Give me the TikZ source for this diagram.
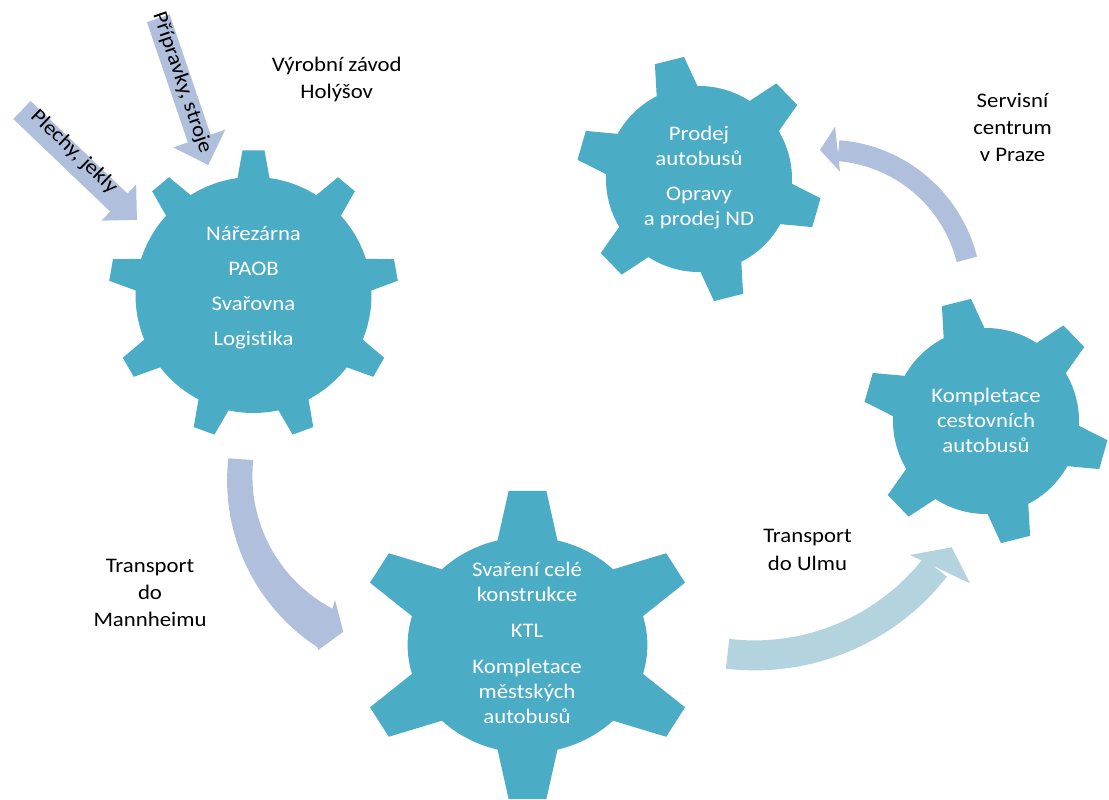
\documentclass[tikz,border=0pt]{standalone}
\usepackage{fontspec}
\setmainfont{Carlito}[FakeStretch=1.1, Ligatures=NoCommon]
\usetikzlibrary{calc}

\definecolor{gearteal}{HTML}{4BACC6}
\definecolor{flowlav}{HTML}{B0BFDC}
\definecolor{flowteal}{HTML}{B3D4DF}

\newcommand\lblfont{\fontsize{20.7}{27.3}\selectfont}
\newcommand\gearfont{\fontsize{20.7}{25}\selectfont}

% gear outline: #1 centre, #2 teeth, #3 angle of first tooth,
% #4 body radius, #5 tip radius, #6 half width at base, #7 half width at tip, #8 x stretch
\newcommand\gearshape[8]{%
  \begin{scope}[shift={#1}, xscale=#8]
    \pgfmathsetmacro\gearB{asin(#6/#4)}%
    \pgfmathsetmacro\gearT{asin(#7/#5)}%
    \pgfmathsetmacro\gearS{360/#2}%
    \fill[gearteal] ({#3-\gearS+\gearB}:#4)
      \foreach \k in {1,...,#2}{
        arc[start angle={#3+(\k-2)*\gearS+\gearB}, end angle={#3+(\k-1)*\gearS-\gearB}, radius=#4]
        -- ({#3+(\k-1)*\gearS-\gearT}:#5) -- ({#3+(\k-1)*\gearS+\gearT}:#5)
        -- ({#3+(\k-1)*\gearS+\gearB}:#4)
      } -- cycle;
  \end{scope}%
}

% anchor=base puts the last line of a label on the given point
\tikzset{
  lbl/.style={font=\lblfont, align=center, inner sep=0pt, anchor=base, text=black},
  gtxt/.style={font=\gearfont, align=center, inner sep=0pt, anchor=base, text=white},
  arrtxt/.style={font=\lblfont, inner sep=0pt, text=black},
}

\begin{document}
\begin{tikzpicture}[x=1pt, y=-1pt]
  \fill[white] (0,0) rectangle (1109,800);
  \useasboundingbox (0,0) rectangle (1109,800);
  \clip (0,0) rectangle (1109,800);

  % gear centres
  \coordinate (g1) at (253.5,295);
  \coordinate (g2) at (699,179);
  \coordinate (g3) at (986,421);
  \coordinate (g4) at (527.5,645);

  % gears
  \gearshape{(g1)}{9}{-90}{118}{145}{16}{11}{1}
  \gearshape{(g2)}{6}{-104}{93}{123}{21}{15}{1}
  \gearshape{(g3)}{6}{-104}{93}{123}{21}{15}{1}
  \gearshape{(g4)}{6}{-90}{108}{155}{27}{17}{1.11}

  % straight input arrows
  \begin{scope}[shift={(22,110)}, rotate=-43.7]
    \fill[flowlav] (0,-12.5) -- (134,-12.5) -- (134,-25) -- (159,0)
      -- (134,25) -- (134,12.5) -- (0,12.5) -- cycle;
  \end{scope}
  \begin{scope}[shift={(158.3,18.3)}, rotate=-71.2]
    \fill[flowlav] (0,-12) -- (127,-12) -- (127,-27.5) -- (155,0)
      -- (127,27.5) -- (127,12) -- (0,12) -- cycle;
  \end{scope}
  \node[arrtxt, rotate=-43.7] (plech) at (74,152) {Plechy, jekly};
  \node[arrtxt, rotate=-71.2] (prip) at (182,83) {Přípravky, stroje};

  % curved flow arrows
  % to Mannheim: outer and inner edges on two circles
  \coordinate (cMo) at (426,480.5);
  \coordinate (cMi) at (402,476.2);
  \coordinate (mA) at (335,600);
  \coordinate (mB) at (318.3,650);
  \coordinate (mT) at (343.3,631.7);
  \fill[flowlav] ($(cMo)+(186.4:198.9)$) arc[start angle=186.4, end angle=123.1, radius=198.9]
    -- (mB) -- (mT) -- (mA) -- ($(cMi)+(117.7:149.6)$)
    arc[start angle=117.7, end angle=186.2, radius=149.6] -- cycle;
  % to Ulm
  \coordinate (cU) at (754.7,426.4);
  \draw[flowteal, line width=30] (cU) ++(96.8:229) arc[start angle=96.8, end angle=38, radius=229];
  \coordinate (uA) at (910,555);
  \coordinate (uB) at (970,583.3);
  \coordinate (uT) at (951.7,547.3);
  \fill[flowteal] (uA) -- (uT) -- (uB) -- cycle;
  % service centre
  \coordinate (cP) at (827.1,294.2);
  \draw[flowlav, line width=21] (cP) ++(-14:144) arc[start angle=-14, end angle=-85.5, radius=144];
  \coordinate (pA) at (840,171.7);
  \coordinate (pB) at (835,126.7);
  \coordinate (pT) at (820,150);
  \fill[flowlav] (pA) -- (pT) -- (pB) -- cycle;

  % outside labels
  \node[lbl] (vyr) at (336.7,98.3) {Výrobní závod\\Holýšov};
  \node[lbl] (serv) at (1012.5,161.7) {Servisní\\centrum\\v Praze};
  \node[lbl] (tman) at (150,626.7) {Transport\\do\\Mannheimu};
  \node[lbl] (tulm) at (807.5,570) {Transport\\do Ulmu};

  % gear labels
  \node[gtxt] (t1) at (253.5,345) {Nářezárna\\[10pt]PAOB\\[10pt]Svařovna\\[10pt]Logistika};
  \node[gtxt] (t2) at (699,225.7) {Prodej\\autobusů\\[10pt]Opravy\\a prodej ND};
  \node[gtxt] (t3) at (986,452.3) {Kompletace\\cestovních\\autobusů};
  \node[gtxt] (t4) at (527,723.3) {Svaření celé\\konstrukce\\[11pt]KTL\\[11pt]Kompletace\\městských\\autobusů};
\end{tikzpicture}
\end{document}
